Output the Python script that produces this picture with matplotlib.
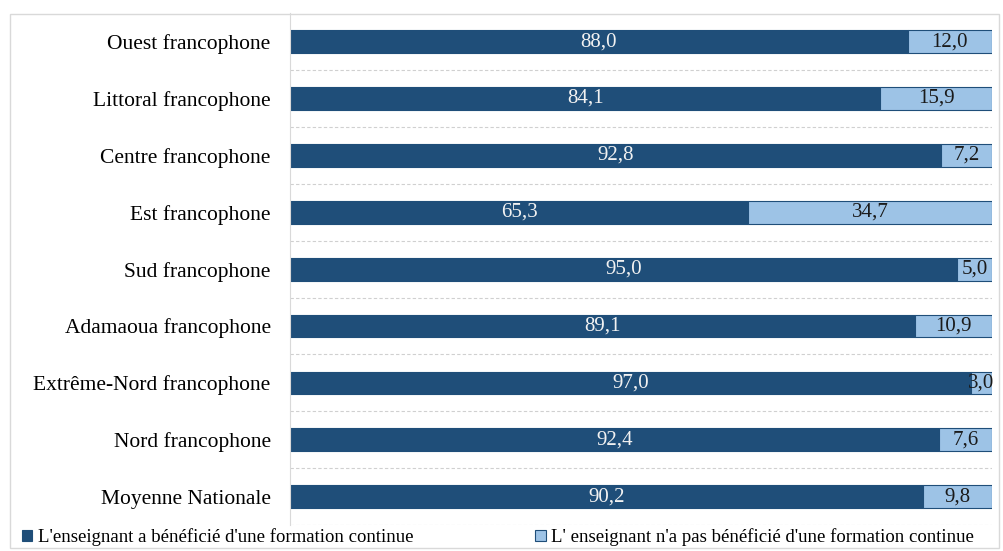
import matplotlib.pyplot as plt
import numpy as np
from matplotlib.patches import Rectangle

# regions and shares of teachers (%)
regions = ['Ouest francophone', 'Littoral francophone', 'Centre francophone',
           'Est francophone', 'Sud francophone', 'Adamaoua francophone',
           'Extrême-Nord francophone', 'Nord francophone', 'Moyenne Nationale']
trained = [88.0, 84.1, 92.8, 65.3, 95.0, 89.1, 97.0, 92.4, 90.2]
not_trained = [12.0, 15.9, 7.2, 34.7, 5.0, 10.9, 3.0, 7.6, 9.8]

dark = '#1F4E79'
light = '#9DC3E6'

plt.rcParams['font.family'] = ['Liberation Serif', 'DejaVu Serif']

fig = plt.figure(figsize=(10.04, 5.51), dpi=100)
ax = fig.add_axes([0.289, 0.047, 0.699, 0.929])

y = np.arange(len(regions))
h = 0.4
ax.barh(y, trained, height=h, color=dark, edgecolor=dark, linewidth=0.8,
        label="L'enseignant a bénéficié d'une formation continue")
ax.barh(y, not_trained, left=trained, height=h, color=light, edgecolor=dark, linewidth=0.8,
        label="L' enseignant n'a pas bénéficié d'une formation continue")

fmt = lambda v: f'{v:.1f}'.replace('.', ',')
for i in range(len(regions)):
    ax.text(trained[i] / 2, i, fmt(trained[i]), ha='center', va='center',
            color='#f2f2f2', fontsize=15)
    ax.text(trained[i] + not_trained[i] / 2, i, fmt(not_trained[i]), ha='center', va='center',
            color='#1a1a1a', fontsize=15)

# dashed separators between rows
for b in np.arange(-0.5, len(regions) - 1, 1.0) + 1:
    ax.axhline(b, color='#d0d0d0', linestyle=(0, (3, 2)), linewidth=0.8, zorder=0)

ax.set_xlim(0, 100)
ax.set_ylim(len(regions) - 0.5, -0.5)
ax.set_yticks(y)
ax.set_yticklabels(regions, fontsize=15.5)
ax.tick_params(axis='y', length=0, pad=14)
ax.set_xticks([])
for s in ['top', 'right', 'bottom']:
    ax.spines[s].set_visible(False)
ax.spines['left'].set_color('#d9d9d9')

# outer frame
fig.patches.append(Rectangle((0.01, 0.005), 0.985, 0.97, transform=fig.transFigure,
                             fill=False, edgecolor='#d9d9d9', linewidth=1))

fig.legend(loc='lower left', bbox_to_anchor=(0.005, -0.022), ncol=2, frameon=False,
           fontsize=13.5, handlelength=0.55, handleheight=0.55, handletextpad=0.3,
           columnspacing=6.5)

fig.savefig('out.png', dpi=100)
